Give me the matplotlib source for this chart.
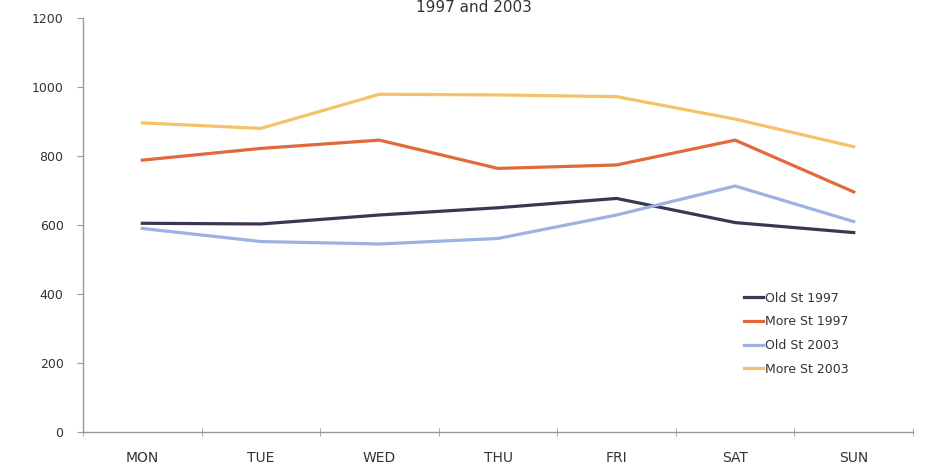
import matplotlib
matplotlib.use("Agg")
import matplotlib.pyplot as plt

days = ["MON", "TUE", "WED", "THU", "FRI", "SAT", "SUN"]
old_1997 = [605, 603, 629, 650, 677, 607, 578]
more_1997 = [788, 822, 846, 764, 774, 846, 696]
old_2003 = [590, 552, 545, 561, 629, 713, 610]
more_2003 = [896, 880, 979, 977, 972, 907, 827]
series_names = ["Old St 1997", "More St 1997", "Old St 2003", "More St 2003"]
colors = ["#3d3652", "#e2693c", "#9db1e2", "#f4c268"]

fig = plt.figure(figsize=(9.48, 4.75), dpi=100)
ax = fig.add_axes([83/948, 1 - 432/475, (913 - 83)/948, (432 - 18)/475])

x = list(range(len(days)))
for vals, name, c in zip([old_1997, more_1997, old_2003, more_2003], series_names, colors):
    ax.plot(x, vals, color=c, lw=2.3, label=name, solid_joinstyle="miter")

ax.set_xlim(-0.5, len(days) - 0.5)
ax.set_ylim(0, 1200)
ax.set_yticks(range(0, 1201, 200))
ax.set_xticks(x)
ax.set_xticklabels(days)
ax.set_xticks([i - 0.5 for i in range(len(days) + 1)], minor=True)
ax.tick_params(axis="x", which="major", length=0, pad=14, labelsize=10, labelcolor="#333333")
ax.tick_params(axis="x", which="minor", length=6, direction="inout", color="#999999")
ax.tick_params(axis="y", length=4, color="#999999", labelsize=9, labelcolor="#333333", pad=10)

for s in ["top", "right"]:
    ax.spines[s].set_visible(False)
for s in ["left", "bottom"]:
    ax.spines[s].set_color("#999999")
    ax.spines[s].set_linewidth(1.0)

leg = ax.legend(loc="upper left", bbox_to_anchor=(0.783, 0.366), frameon=False,
                fontsize=9, handlelength=1.5, handletextpad=0.2, labelspacing=0.85)
for t in leg.get_texts():
    t.set_color("#333333")

fig.text(0.5, 0.999, "1997 and 2003", ha="center", va="top", fontsize=11, color="#333333")

fig.savefig("out.png", dpi=100)
